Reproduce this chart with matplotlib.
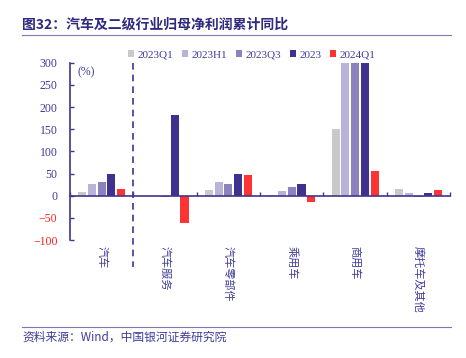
import numpy as np
import matplotlib
matplotlib.use("Agg")
import matplotlib.pyplot as plt
from matplotlib.lines import Line2D

plt.rcParams['font.family'] = ['Liberation Serif', 'Noto Sans CJK SC']
plt.rcParams['axes.unicode_minus'] = True

# data (商用车 H1/Q3/2023 run off the top of the axis)
categories = ["汽车", "汽车服务", "汽车零部件", "乘用车", "商用车", "摩托车及其他"]
series_names = ["2023Q1", "2023H1", "2023Q3", "2023", "2024Q1"]
v_2023q1 = [8, 0, 12, 1, 151, 14]
v_2023h1 = [27, -1, 31, 11, 420, 7]
v_2023q3 = [30, -4, 26, 19, 380, -2]
v_2023 = [48, 182, 49, 26, 360, 7]
v_2024q1 = [15, -62, 47, -15, 55, 12]
yticks = [-100, -50, 0, 50, 100, 150, 200, 250, 300]

colors = ["#C9C9C9", "#B9B3DA", "#8C82BE", "#40318F", "#FF3333"]
txt_blue = "#3F3B99"
axis_blue = "#3F3590"

fig = plt.figure(figsize=(4.66, 3.58), dpi=100)
ax = fig.add_axes([0.150, 0.3296, 0.816, 0.4953])

x = np.arange(len(categories))
all_vals = [v_2023q1, v_2023h1, v_2023q3, v_2023, v_2024q1]
step = 0.154
width = 0.128
for i, (vals, c, name) in enumerate(zip(all_vals, colors, series_names)):
    ax.bar(x + (i - 2) * step, vals, width, color=c, label=name, zorder=2)

ax.set_xlim(-0.5, len(categories) - 0.5)
ax.set_ylim(-100, 300)
ax.set_yticks(yticks)
ax.set_yticklabels([str(t).replace("-", "\u2212") for t in yticks])
for lab, t in zip(ax.get_yticklabels(), yticks):
    lab.set_color("#FF2020" if t < 0 else txt_blue)
ax.tick_params(axis='y', direction='in', length=3, width=1, color=axis_blue,
               labelsize=8.5, pad=9)

for s in ["top", "right"]:
    ax.spines[s].set_visible(False)
ax.spines["left"].set_color(axis_blue)
ax.spines["left"].set_linewidth(1.2)
ax.spines["bottom"].set_position(("data", 0))
ax.spines["bottom"].set_color(axis_blue)
ax.spines["bottom"].set_linewidth(1.2)
ax.spines["bottom"].set_zorder(3)
ax.set_xticks(np.arange(len(categories) + 1) - 0.5)
ax.set_xticklabels([])
ax.tick_params(axis='x', direction='in', length=3, width=1, color=axis_blue)

# dashed separator after 汽车
ax.add_line(Line2D([0.5, 0.5], [300, -160], color=axis_blue, lw=1.2,
                   ls=(0, (4, 3)), clip_on=False, zorder=3))

ax.text(0.02, 0.98, "(%)", transform=ax.transAxes, fontsize=8.5,
        color=txt_blue, ha='left', va='top')

for xi, cat in zip(x, categories):
    ax.text(xi, -114, cat, rotation=270, ha='center', va='top', fontsize=8,
            color=txt_blue, family=['Noto Sans CJK SC'])

leg = ax.legend(loc='center', bbox_to_anchor=(0.54, 0.846),
                bbox_transform=fig.transFigure, ncol=5, frameon=False,
                fontsize=8, handlelength=0.55, handleheight=0.55,
                handletextpad=0.3, columnspacing=0.8)
for t in leg.get_texts():
    t.set_color(txt_blue)

fig.text(22 / 466, 1 - 25 / 358, "图32：汽车及二级行业归母净利润累计同比",
         fontsize=10, fontweight='bold', color="#2F2A80", ha='left',
         va='center', family=['Noto Sans CJK SC'])
fig.add_artist(Line2D([22 / 466, 451 / 466], [1 - 35 / 358, 1 - 35 / 358],
                      color="#7C77B5", lw=0.8))
fig.add_artist(Line2D([22 / 466, 451 / 466], [1 - 327 / 358, 1 - 327 / 358],
                      color="#7C77B5", lw=0.8))
fig.text(22 / 466, 1 - 337 / 358, "资料来源：Wind，中国银河证券研究院",
         fontsize=8.5, color=txt_blue, ha='left', va='center',
         family=['Noto Sans CJK SC'])

fig.savefig("out.png", dpi=100)
